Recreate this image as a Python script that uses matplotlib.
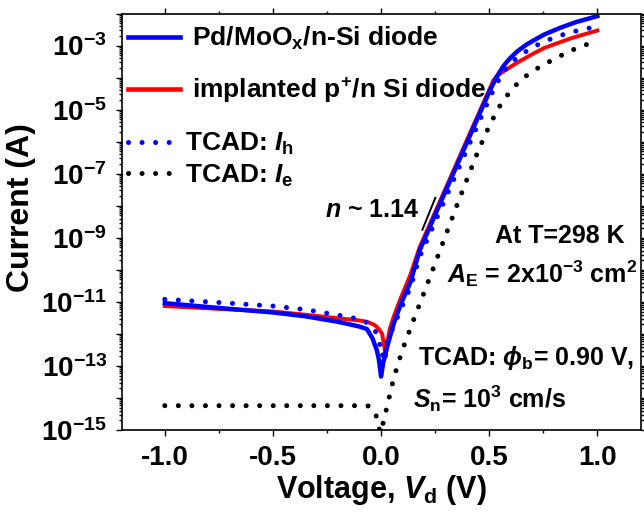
import numpy as np
import matplotlib
matplotlib.use('Agg')
import matplotlib.pyplot as plt
from matplotlib.ticker import LogLocator, FuncFormatter, NullFormatter, MultipleLocator
from matplotlib.lines import Line2D

plt.rcParams['font.family'] = 'Liberation Sans'
plt.rcParams['font.weight'] = 'bold'
plt.rcParams['axes.labelweight'] = 'bold'
plt.rcParams['mathtext.fontset'] = 'custom'
plt.rcParams['mathtext.rm'] = 'Liberation Sans:bold'
plt.rcParams['mathtext.bf'] = 'Liberation Sans:bold'
plt.rcParams['mathtext.sf'] = 'Liberation Sans:bold'
plt.rcParams['mathtext.it'] = 'Liberation Sans:italic:bold'

# measured Pd/MoOx/n-Si diode (log10 of current)
v_pd = [-1.0, -0.75, -0.5, -0.35, -0.2, -0.1, -0.065, -0.04, -0.02, -0.01, 0.0, 0.01, 0.028,
        0.059, 0.09, 0.136, 0.178, 0.25, 0.32, 0.4, 0.475, 0.5, 0.52, 0.54, 0.56, 0.58, 0.6,
        0.63, 0.67, 0.71, 0.756, 0.83, 0.9, 1.0]
log_pd = [-11.04, -11.19, -11.33, -11.45, -11.62, -11.77, -11.85, -12.13, -12.5, -12.8, -13.33,
          -12.9, -12.4, -11.67, -11.09, -10.38, -9.4, -8.28, -7.21, -5.98, -4.83, -4.45, -4.17,
          -3.92, -3.70, -3.52, -3.37, -3.18, -2.98, -2.82, -2.65, -2.44, -2.27, -2.08]

# implanted p+/n diode
v_imp = [-1.0, -0.75, -0.5, -0.35, -0.2, -0.1, -0.065, -0.03, -0.01, 0.005, 0.015, 0.021, 0.028,
         0.04, 0.059, 0.09, 0.136, 0.178, 0.25, 0.32, 0.4, 0.475, 0.52, 0.535, 0.552, 0.583,
         0.63, 0.707, 0.756, 0.879, 1.0]
log_imp = [-11.13, -11.22, -11.30, -11.40, -11.51, -11.58, -11.62, -11.72, -11.85, -12.0, -12.4,
           -12.72, -12.3, -11.85, -11.45, -10.9, -10.15, -9.3, -8.2, -7.13, -5.9, -4.76, -4.08,
           -3.95, -3.87, -3.73, -3.53, -3.24, -3.07, -2.77, -2.53]

# TCAD hole current
v_ih = [-1.0, -0.75, -0.5, -0.35, -0.2, -0.1, -0.065, -0.03, -0.01, 0.005, 0.015, 0.03, 0.059,
        0.09, 0.136, 0.178, 0.25, 0.32, 0.4, 0.475, 0.5, 0.52, 0.54, 0.56, 0.583, 0.61, 0.65,
        0.707, 0.774, 0.83, 0.9, 1.0]
log_ih = [-10.92, -11.02, -11.13, -11.24, -11.41, -11.54, -11.65, -11.85, -12.2, -12.7, -12.5,
          -12.2, -11.75, -11.25, -10.55, -9.6, -8.5, -7.43, -6.2, -5.05, -4.67, -4.38, -4.12,
          -3.9, -3.68, -3.48, -3.27, -3.03, -2.82, -2.68, -2.55, -2.40]

# TCAD electron current
v_ie = [-1.0, -0.5, -0.1, -0.055, -0.046, -0.029, -0.015, 0.0, 0.011, 0.023, 0.033, 0.053, 0.076,
        0.107, 0.15, 0.2, 0.25, 0.3, 0.35, 0.4, 0.45, 0.491, 0.52, 0.552, 0.6, 0.65, 0.707,
        0.784, 0.872, 1.0]
log_ie = [-14.24, -14.24, -14.24, -14.25, -14.3, -14.45, -14.69, -15.3, -14.69, -14.40, -14.12,
          -13.54, -12.97, -12.35, -11.57, -10.69, -9.8, -8.9, -8.0, -7.13, -6.27, -5.65, -5.25,
          -4.85, -4.4, -4.05, -3.77, -3.48, -3.17, -2.84]

# ideality guide line
v_guide = [0.191, 0.251]
log_guide = [-8.75, -7.75]

dots = (0, (0.01, 2.7))

fig = plt.figure(figsize=(6.44, 5.15), dpi=100)
ax = fig.add_axes([0.1887, 0.165, 0.806, 0.8087])

ax.plot(v_ie, 10.0**np.array(log_ie), color='black', lw=3.6, ls=dots, dash_capstyle='round')
ax.plot(v_imp, 10.0**np.array(log_imp), color='red', lw=2.8)
ax.plot(v_pd, 10.0**np.array(log_pd), color='blue', lw=3.2)
ax.plot(v_ih, 10.0**np.array(log_ih), color='blue', lw=3.6, ls=dots, dash_capstyle='round')
ax.plot(v_guide, 10.0**np.array(log_guide), color='black', lw=1.4)

ax.set_yscale('log')
ax.set_xlim(-1.2, 1.2)
ax.set_ylim(1e-15, 1e-2)

ax.xaxis.set_major_locator(MultipleLocator(0.5))
ax.xaxis.set_minor_locator(MultipleLocator(0.25))
ax.xaxis.set_major_formatter(FuncFormatter(lambda x, p: '%.1f' % x if abs(x) > 1e-9 else '0.0'))
ax.yaxis.set_major_locator(LogLocator(base=10, numticks=30))
ax.yaxis.set_minor_locator(LogLocator(base=10, subs=np.arange(2, 10), numticks=200))
ax.yaxis.set_minor_formatter(NullFormatter())


def ylab(y, pos):
    e = int(round(np.log10(y)))
    if e % 2 == 0:
        return ''
    return r'$10^{%d}$' % e


ax.yaxis.set_major_formatter(FuncFormatter(ylab))
ax.tick_params(which='both', direction='out', top=True, right=True, width=1.0)
ax.tick_params(which='major', length=4.5, labelsize=20, pad=6)
ax.tick_params(which='minor', length=2.5)
for s in ax.spines.values():
    s.set_linewidth(1.2)

ax.set_xlabel(r'Voltage, $V_\mathrm{d}$ (V)', fontsize=22, labelpad=2)
ax.set_ylabel('Current (A)', fontsize=23)
ax.yaxis.label.set_y(0.535)

h1 = [Line2D([], [], color='blue', lw=3.3), Line2D([], [], color='red', lw=3.3)]
leg1 = ax.legend(h1, [r'Pd/MoO$_\mathrm{x}$/n-Si diode', r'implanted p$^\mathrm{+}$/n Si diode'],
                 loc='upper left', bbox_to_anchor=(0.012, 0.973), frameon=False, fontsize=19,
                 handlelength=1.97, handletextpad=0.46, labelspacing=0.9, borderpad=0,
                 borderaxespad=0)
ax.add_artist(leg1)
h2 = [Line2D([], [], color='blue', lw=3.6, ls=dots, dash_capstyle='round'),
      Line2D([], [], color='black', lw=3.6, ls=dots, dash_capstyle='round')]
ax.legend(h2, [r'TCAD: $I_\mathrm{h}$', r'TCAD: $I_\mathrm{e}$'],
          loc='upper left', bbox_to_anchor=(0.012, 0.718), frameon=False, fontsize=19,
          handlelength=1.97, handletextpad=0.2, labelspacing=0.21, borderpad=0, borderaxespad=0)

ax.text(-0.043, 10**-8.35, r'$n$ ~ 1.14', fontsize=18, ha='center', va='baseline')
ax.text(0.826, 10**-9.16, 'At T=298 K', fontsize=18, ha='center', va='baseline')
ax.text(0.747, 10**-10.42, r'$A_\mathrm{E}$ = 2x10$^\mathrm{-3}$ cm$^\mathrm{2}$', fontsize=18,
        ha='center', va='baseline')
ax.text(0.672, 10**-12.97, r'TCAD: $\phi_\mathrm{b}$= 0.90 V,', fontsize=18, ha='center',
        va='baseline')
ax.text(0.501, 10**-14.32, r'$S_\mathrm{n}$= 10$^\mathrm{3}$ cm/s', fontsize=18, ha='center',
        va='baseline')

fig.savefig('out.png', dpi=100)
